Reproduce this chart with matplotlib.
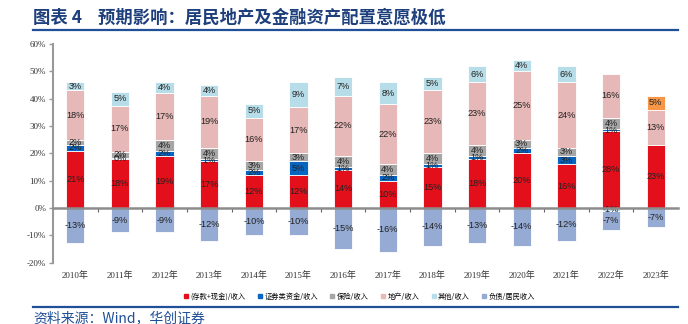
import numpy as np
import matplotlib.pyplot as plt
from matplotlib.lines import Line2D
import matplotlib.transforms as mtransforms

plt.rcParams['font.family'] = ['Liberation Serif', 'Noto Sans CJK SC']

years = ["2010年", "2011年", "2012年", "2013年", "2014年", "2015年", "2016年",
         "2017年", "2018年", "2019年", "2020年", "2021年", "2022年", "2023年"]

# shares of household income, %
deposit_cash = [21, 18, 19, 17, 12, 12, 14, 10, 15, 18, 20, 16, 28, 23]
securities = [2, 0.4, 2, 1, 2, 5, 1, 2, 1, 1, 2, 3, 1, np.nan]
insurance = [2, 2, 4, 4, 3, 3, 4, 4, 4, 4, 3, 3, 4, np.nan]
real_estate = [18, 17, 17, 19, 16, 17, 22, 22, 23, 23, 25, 24, 16, 13]
other = [3, 5, 4, 4, 5, 9, 7, 8, 5, 6, 4, 6, -1, 5]
liabilities = [-13, -9, -9, -12, -10, -10, -15, -16, -14, -13, -14, -12, -7, -7]

series_names = ["(存款+现金)/收入", "证券类资金/收入", "保险/收入", "地产/收入",
                "其他/收入", "负债/居民收入"]
series = [deposit_cash, securities, insurance, real_estate, other, liabilities]
colors = ["#e3101c", "#0866c2", "#a6a6a6", "#e6b8b7", "#b7dde8", "#95abd4"]

fig = plt.figure(figsize=(6.88, 3.24), dpi=100)
ax = fig.add_axes([53 / 688, 1 - 262.5 / 324, 625 / 688, 218.5 / 324])

x = np.arange(len(years))
pos_base = np.zeros(len(years))
neg_base = np.zeros(len(years))
label_font = ['Liberation Sans Narrow', 'Liberation Sans', 'DejaVu Sans']

for k, (vals, col) in enumerate(zip(series, colors)):
    vals = np.array(vals, dtype=float)
    for i, v in enumerate(vals):
        if np.isnan(v):
            continue
        c = col
        if k == 4 and i == len(years) - 1:
            c = "#f79646"  # 2023 estimate highlighted
        base = pos_base[i] if v >= 0 else neg_base[i]
        ax.bar(x[i], v, bottom=base, width=0.41, color=c,
               edgecolor="white", linewidth=0.6, zorder=2)
        ax.text(x[i], base + v / 2, f"{v:.0f}%", ha="center", va="center",
                fontsize=6.6, color="#222222", family=label_font, zorder=3)
        if v >= 0:
            pos_base[i] += v
        else:
            neg_base[i] += v

ax.set_xlim(-0.5, len(years) - 0.5)
ax.set_ylim(-20, 60)
ax.set_yticks(np.arange(-20, 61, 10))
ax.set_yticklabels([f"{t}%" for t in range(-20, 61, 10)], fontsize=6.5,
                   color="#333333")
ax.tick_params(axis="y", length=3, width=1, color="#999999", pad=2)

ax.spines["top"].set_visible(False)
ax.spines["right"].set_visible(False)
ax.spines["left"].set_color("#999999")
ax.spines["left"].set_linewidth(1.5)
ax.spines["bottom"].set_position(("data", 0))
ax.spines["bottom"].set_color("#8c8c8c")
ax.spines["bottom"].set_linewidth(1.8)
ax.spines["bottom"].set_zorder(4)

# tick marks between categories, year labels below the plot
ax.set_xticks(np.arange(0.5, len(years) - 0.5, 1))
ax.set_xticklabels([])
ax.tick_params(axis="x", direction="out", length=3, width=0.8, color="#666666")
trans = mtransforms.blended_transform_factory(ax.transData, ax.transAxes)
for i, yr in enumerate(years):
    ax.text(x[i], -0.062, yr, transform=trans, ha="center", va="center",
            fontsize=6.5, color="#333333")

handles = [Line2D([], [], marker="s", linestyle="none", markersize=3,
                  markerfacecolor=c, markeredgecolor=c) for c in colors]
fig.legend(handles, series_names, loc="center", bbox_to_anchor=(359 / 688, 1 - 297 / 324),
           ncol=6, frameon=False, handletextpad=0.2,
           columnspacing=1.6, handlelength=0.8,
           prop={"family": ["Noto Sans CJK SC"], "size": 5.2})

# title and source
navy = "#1d3f7c"
fig.text(33 / 688, 1 - 18 / 324, "图表 4    预期影响：居民地产及金融资产配置意愿极低",
         ha="left", va="center", fontsize=12.5, fontweight="bold", color=navy,
         family=["Noto Sans CJK SC"])
fig.add_artist(Line2D([33 / 688, 678 / 688], [1 - 30 / 324, 1 - 30 / 324],
                      color="#1f4f96", linewidth=1.6))
fig.add_artist(Line2D([33 / 688, 678 / 688], [1 - 307 / 324, 1 - 307 / 324],
                      color="#1f4f96", linewidth=1.6))
fig.text(33 / 688, 1 - 311 / 324, "资料来源：Wind，华创证券", ha="left", va="top",
         fontsize=10, color="#1f4f96", style="italic", family=["Noto Sans CJK SC"])

fig.savefig("out.png", dpi=100)
